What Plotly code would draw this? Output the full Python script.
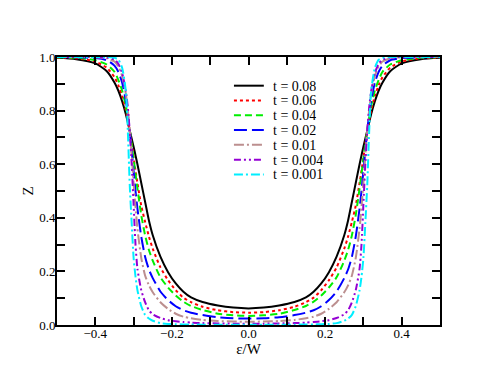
import plotly.graph_objects as go

# energy grid eps/W
eps = [-0.5, -0.45, -0.40, -0.37, -0.35, -0.34, -0.33, -0.32, -0.315, -0.31, -0.305,
       -0.30, -0.295, -0.29, -0.28, -0.27, -0.26, -0.25, -0.23, -0.21, -0.19, -0.17,
       -0.15, -0.12, -0.08, -0.04, 0.0, 0.04, 0.08, 0.12, 0.15, 0.17, 0.19, 0.21, 0.23,
       0.25, 0.26, 0.27, 0.28, 0.29, 0.295, 0.30, 0.305, 0.31, 0.315, 0.32, 0.33, 0.34,
       0.35, 0.37, 0.40, 0.45, 0.5]

z_t008 = [0.997, 0.992, 0.976, 0.947, 0.905, 0.875, 0.835, 0.785, 0.755, 0.725, 0.695,
          0.665, 0.633, 0.60, 0.53, 0.46, 0.39, 0.335, 0.255, 0.197, 0.155, 0.124,
          0.103, 0.086, 0.073, 0.065, 0.062, 0.065, 0.073, 0.086, 0.103, 0.124, 0.155,
          0.197, 0.255, 0.335, 0.39, 0.46, 0.53, 0.60, 0.633, 0.665, 0.695, 0.725,
          0.755, 0.785, 0.835, 0.875, 0.905, 0.947, 0.976, 0.992, 0.997]

z_t006 = [0.998, 0.995, 0.983, 0.96, 0.925, 0.895, 0.855, 0.80, 0.765, 0.725, 0.675,
          0.625, 0.575, 0.53, 0.445, 0.385, 0.33, 0.285, 0.215, 0.167, 0.13, 0.102,
          0.085, 0.068, 0.055, 0.048, 0.046, 0.048, 0.055, 0.068, 0.085, 0.102, 0.13,
          0.167, 0.215, 0.285, 0.33, 0.385, 0.445, 0.53, 0.575, 0.625, 0.675, 0.725,
          0.765, 0.80, 0.855, 0.895, 0.925, 0.96, 0.983, 0.995, 0.998]

z_t004 = [0.999, 0.997, 0.988, 0.972, 0.945, 0.915, 0.875, 0.815, 0.772, 0.725, 0.672,
          0.62, 0.565, 0.51, 0.41, 0.335, 0.28, 0.24, 0.178, 0.14, 0.11, 0.087,
          0.071, 0.056, 0.042, 0.036, 0.034, 0.036, 0.042, 0.056, 0.071, 0.087, 0.11,
          0.14, 0.178, 0.24, 0.28, 0.335, 0.41, 0.51, 0.565, 0.62, 0.672, 0.725,
          0.772, 0.815, 0.875, 0.915, 0.945, 0.972, 0.988, 0.997, 0.999]

z_t002 = [1.0, 0.999, 0.996, 0.988, 0.968, 0.945, 0.905, 0.835, 0.785, 0.725, 0.65,
          0.575, 0.50, 0.435, 0.33, 0.255, 0.207, 0.175, 0.125, 0.093, 0.07, 0.055,
          0.046, 0.037, 0.029, 0.025, 0.024, 0.025, 0.029, 0.037, 0.046, 0.055, 0.07,
          0.093, 0.125, 0.175, 0.207, 0.255, 0.33, 0.435, 0.50, 0.575, 0.65, 0.725,
          0.785, 0.835, 0.905, 0.945, 0.968, 0.988, 0.996, 0.999, 1.0]

z_t001 = [1.0, 1.0, 0.999, 0.995, 0.983, 0.965, 0.93, 0.86, 0.80, 0.725, 0.635,
          0.53, 0.44, 0.36, 0.25, 0.185, 0.148, 0.122, 0.085, 0.06, 0.042, 0.031,
          0.025, 0.019, 0.015, 0.013, 0.012, 0.013, 0.015, 0.019, 0.025, 0.031, 0.042,
          0.06, 0.085, 0.122, 0.148, 0.185, 0.25, 0.36, 0.44, 0.53, 0.635, 0.725,
          0.80, 0.86, 0.93, 0.965, 0.983, 0.995, 0.999, 1.0, 1.0]

z_t0004 = [1.0, 1.0, 1.0, 0.998, 0.99, 0.975, 0.94, 0.87, 0.81, 0.72, 0.60,
           0.45, 0.30, 0.21, 0.13, 0.085, 0.055, 0.04, 0.026, 0.018, 0.014, 0.011,
           0.009, 0.007, 0.006, 0.005, 0.005, 0.005, 0.006, 0.007, 0.009, 0.011, 0.014,
           0.018, 0.026, 0.04, 0.055, 0.085, 0.13, 0.21, 0.30, 0.45, 0.60, 0.72,
           0.81, 0.87, 0.94, 0.975, 0.99, 0.998, 1.0, 1.0, 1.0]

z_t0001 = [1.0, 1.0, 1.0, 1.0, 0.997, 0.99, 0.96, 0.87, 0.72, 0.52, 0.38,
           0.25, 0.18, 0.13, 0.07, 0.038, 0.024, 0.016, 0.007, 0.004, 0.003, 0.002,
           0.002, 0.001, 0.001, 0.001, 0.001, 0.001, 0.001, 0.001, 0.002, 0.002, 0.003,
           0.004, 0.007, 0.016, 0.024, 0.038, 0.07, 0.13, 0.18, 0.25, 0.38, 0.52,
           0.72, 0.87, 0.96, 0.99, 0.997, 1.0, 1.0, 1.0, 1.0]

labels = ["t = 0.08", "t = 0.06", "t = 0.04", "t = 0.02", "t = 0.01", "t = 0.004", "t = 0.001"]
series = [z_t008, z_t006, z_t004, z_t002, z_t001, z_t0004, z_t0001]
colors = ["#000000", "#ff0000", "#00ee00", "#0000ff", "#bc8f8f", "#9400d3", "#00eeff"]
dashes = ["solid", "dot", "7px,4px", "13px,5px", "10px,3px,2px,3px",
          "7px,3px,2px,3px,2px,3px", "9px,3px,2px,3px"]

FONT = "Liberation Serif, Times New Roman, serif"

fig = go.Figure()
for name, z, c, d in zip(labels, series, colors, dashes):
    fig.add_trace(go.Scatter(
        x=eps, y=z, mode="lines", name=name,
        line=dict(color=c, width=2, dash=d, shape="spline", smoothing=0.6),
        showlegend=False,
    ))

# hand-made legend (plotly's native legend rows are too tall here)
for i, (name, c, d) in enumerate(zip(labels, colors, dashes)):
    yy = 0.893 - i * 0.0552
    fig.add_shape(type="line", xref="paper", yref="paper",
                  x0=0.462, x1=0.540, y0=yy, y1=yy,
                  line=dict(color=c, width=2, dash=d))
    fig.add_annotation(xref="paper", yref="paper", x=0.562, y=yy,
                       text=name, showarrow=False, xanchor="left", yanchor="middle",
                       height=14, valign="middle", borderpad=0,
                       font=dict(family=FONT, size=14, color="black"))

axis_common = dict(
    showline=True, linecolor="black", linewidth=2, mirror="allticks",
    ticks="inside", ticklen=8, tickwidth=2, tickcolor="black",
    showgrid=False, zeroline=False,
    tickfont=dict(family=FONT, size=13, color="black"),
    tickformat=".1f",
)

fig.update_xaxes(range=[-0.5, 0.5], dtick=0.2, tick0=0, ticklabelstandoff=-5,
                 minor=dict(dtick=0.1, tick0=0, ticks="inside", ticklen=8,
                            tickwidth=2, tickcolor="black"),
                 title=dict(text="ε/W", standoff=0,
                            font=dict(family=FONT, size=15, color="black")),
                 **axis_common)
fig.update_yaxes(range=[0, 1], dtick=0.2, tick0=0, ticklabelstandoff=-3,
                 minor=dict(dtick=0.1, tick0=0, ticks="inside", ticklen=8,
                            tickwidth=2, tickcolor="black"),
                 title=dict(text="Z", standoff=2,
                            font=dict(family=FONT, size=15, color="black")),
                 **axis_common)

# page body adds an 8px offset, so margins are trimmed by that much
fig.update_layout(
    width=495, height=383,
    margin=dict(l=49, r=63, t=49, b=66),
    plot_bgcolor="white", paper_bgcolor="white",
    font=dict(family=FONT, color="black"),
)

fig.write_html("out.html")
